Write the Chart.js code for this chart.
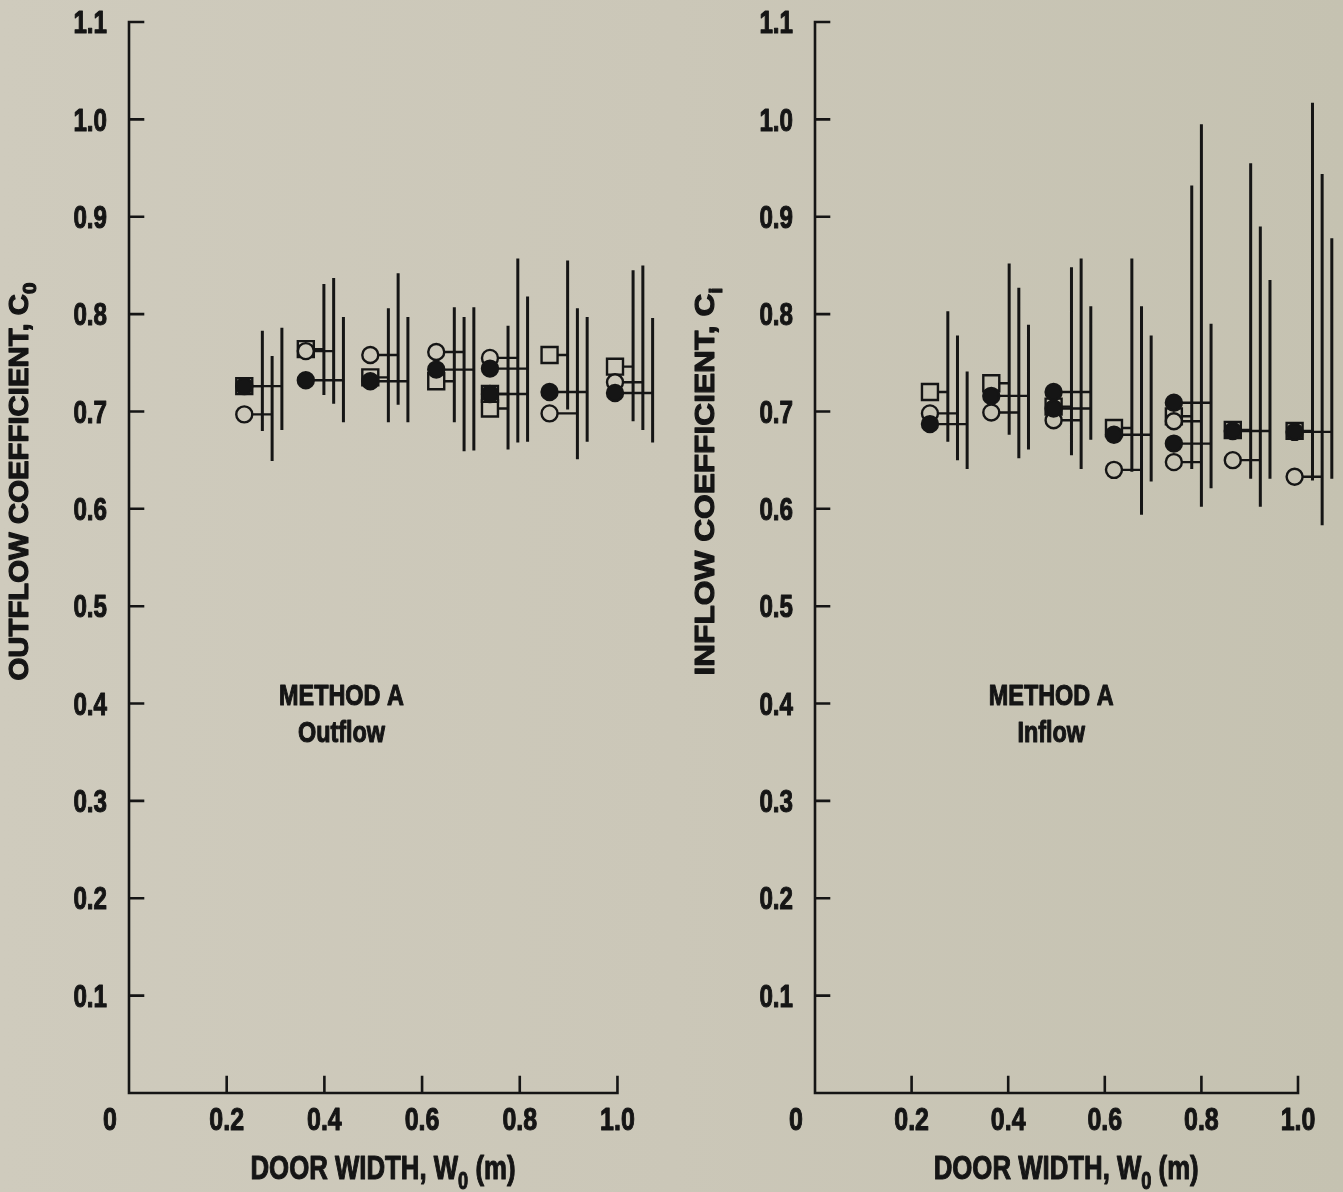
<!DOCTYPE html>
<html>
<head>
<meta charset="utf-8">
<script src="https://cdn.jsdelivr.net/npm/chart.js@4.4.1/dist/chart.umd.min.js"></script>
<style>
  html, body { margin: 0; padding: 0; }
  body {
    width: 1343px; height: 1192px; overflow: hidden; position: relative;
    background: linear-gradient(to right, #cfcbbd 0%, #cbc7b8 50%, #c5c2b1 100%);
  }
  canvas { position: absolute; top: 0; }
  #outflow { left: 0; }
  #inflow { left: 680px; }
</style>
</head>
<body>
<canvas id="outflow" width="680" height="1192"></canvas>
<canvas id="inflow" width="680" height="1192"></canvas>
<script>
const FONT = "'Liberation Sans', Arial, sans-serif";
const INK = "#151515";
const NARROW = 0.78; // squeeze factor for the condensed lettering

// axis ticks
const xTicks = [0.2, 0.4, 0.6, 0.8, 1.0];
const yTicks = [0.1, 0.2, 0.3, 0.4, 0.5, 0.6, 0.7, 0.8, 0.9, 1.0, 1.1];

// ---- outflow (left panel) ----
const outWidth = [0.236, 0.362, 0.494, 0.629, 0.739, 0.861, 0.995];
const outSquare = [0.726, 0.764, 0.735, 0.731, 0.703, 0.758, 0.746];
const outCircle = [0.697, 0.762, 0.758, 0.761, 0.755, 0.698, 0.730];
const outFilled = [0.726, 0.732, 0.731, 0.743, 0.744, 0.720, 0.719];
const outSquareLo = [0.680, 0.717, 0.689, 0.689, 0.661, 0.702, 0.690];
const outSquareHi = [0.783, 0.831, 0.806, 0.807, 0.788, 0.855, 0.845];
const outCircleLo = [0.649, 0.708, 0.707, 0.659, 0.668, 0.651, 0.681];
const outCircleHi = [0.757, 0.837, 0.842, 0.797, 0.857, 0.806, 0.850];
const outFilledLo = [0.681, 0.689, 0.689, 0.660, 0.669, 0.669, 0.668];
const outFilledHi = [0.786, 0.797, 0.797, 0.807, 0.818, 0.797, 0.796];
// second readings at a door width: [group, value]
const outSquareExtra = [[4, 0.718]];
const outCircleExtra = [];
const outFilledExtra = [[4, 0.718]];

// ---- inflow (right panel) ----
const inWidth = [0.238, 0.365, 0.494, 0.619, 0.743, 0.865, 0.993];
const inSquare = [0.720, 0.729, 0.705, 0.683, 0.695, 0.681, 0.680];
const inCircle = [0.698, 0.699, 0.691, 0.640, 0.648, 0.650, 0.633];
const inFilled = [0.687, 0.716, 0.720, 0.676, 0.667, 0.680, 0.679];
const inSquareLo = [0.669, 0.676, 0.655, 0.638, 0.641, 0.631, 0.629];
const inSquareHi = [0.803, 0.852, 0.848, 0.857, 0.932, 0.955, 1.017];
const inCircleLo = [0.650, 0.652, 0.641, 0.594, 0.602, 0.602, 0.583];
const inCircleHi = [0.778, 0.827, 0.857, 0.808, 0.995, 0.890, 0.944];
const inFilledLo = [0.641, 0.661, 0.671, 0.628, 0.621, 0.631, 0.631];
const inFilledHi = [0.741, 0.789, 0.808, 0.778, 0.790, 0.835, 0.878];
const inSquareExtra = [];
const inCircleExtra = [[4, 0.690]];
const inFilledExtra = [[2, 0.703], [4, 0.709]];

// horizontal distance from marker to its range bar (x units)
const BAR_OFF = { square: 0.037, circle: 0.057, filled: 0.077 };

function barData(widths, lo, hi, off) {
  const d = [];
  widths.forEach((w, i) => {
    d.push({ x: w + off, y: lo[i] }, { x: w + off, y: hi[i] }, { x: w + off, y: null });
  });
  return d;
}

function stubData(widths, vals, extra, off) {
  const d = [];
  const add = (w, v) => d.push({ x: w, y: v }, { x: w + off, y: v }, { x: w + off, y: null });
  widths.forEach((w, i) => add(w, vals[i]));
  extra.forEach(([g, v]) => add(widths[g], v));
  return d;
}

function markerData(widths, vals, extra) {
  return widths.map((w, i) => ({ x: w, y: vals[i] }))
    .concat(extra.map(([g, v]) => ({ x: widths[g], y: v })));
}

function lineSet(data, width, order) {
  return {
    type: "scatter", data, showLine: true, spanGaps: false,
    borderColor: INK, borderWidth: width, pointRadius: 0, order, clip: false,
  };
}

function markerSet(data, style, radius, fill, order) {
  return {
    type: "scatter", data, pointStyle: style, pointRadius: radius,
    backgroundColor: fill, borderColor: INK, borderWidth: 2.4, order, clip: false,
  };
}

// text with optional subscript parts; sx = horizontal squeeze, or fit to width
function drawText(ctx, parts, x, y, size, opt = {}) {
  const fontOf = (p) => `bold ${p.sub ? Math.round(size * 0.72) : size}px ${FONT}`;
  const widths = parts.map((p) => { ctx.font = fontOf(p); return ctx.measureText(p.t).width; });
  const total = widths.reduce((a, b) => a + b, 0);
  const sx = opt.width ? opt.width / total : (opt.sx || NARROW);
  ctx.save();
  ctx.translate(x, y);
  ctx.scale(sx, 1);
  ctx.fillStyle = INK;
  ctx.strokeStyle = INK;
  ctx.lineWidth = 1.1;
  ctx.lineJoin = "round";
  ctx.textAlign = "left";
  ctx.textBaseline = "alphabetic";
  let cx = opt.align === "right" ? -total : -total / 2;
  parts.forEach((p, i) => {
    ctx.font = fontOf(p);
    const ty = size * 0.36 + (p.sub ? size * 0.3 : 0);
    ctx.fillText(p.t, cx, ty);
    ctx.strokeText(p.t, cx, ty);
    cx += widths[i];
  });
  ctx.restore();
}

function paperPlugin(cfg) {
  return {
    id: "paper",
    afterDraw(chart) {
      const ctx = chart.ctx;
      const xs = chart.scales.x, ys = chart.scales.y;
      const x0 = xs.getPixelForValue(0), x1 = xs.getPixelForValue(1.0);
      const y0 = ys.getPixelForValue(0), yTop = ys.getPixelForValue(1.1);
      ctx.save();
      ctx.strokeStyle = INK;
      ctx.lineWidth = 2.6;
      ctx.lineCap = "square";
      ctx.beginPath();
      ctx.moveTo(x0, yTop);
      ctx.lineTo(x0, y0);
      ctx.lineTo(x1, y0);
      yTicks.forEach((v) => {
        const y = ys.getPixelForValue(v);
        ctx.moveTo(x0, y);
        ctx.lineTo(x0 + 14, y);
      });
      xTicks.forEach((v) => {
        const x = xs.getPixelForValue(v);
        ctx.moveTo(x, y0);
        ctx.lineTo(x, y0 - 16);
      });
      ctx.stroke();
      ctx.restore();

      // tick labels
      yTicks.forEach((v) => {
        drawText(ctx, [{ t: v.toFixed(1) }], x0 - 22, ys.getPixelForValue(v), 31, { align: "right" });
      });
      xTicks.forEach((v) => {
        drawText(ctx, [{ t: v.toFixed(1) }], xs.getPixelForValue(v), y0 + 25, 32);
      });
      drawText(ctx, [{ t: "0" }], x0 - 19, y0 + 25, 32);

      // x title
      drawText(ctx, [{ t: "DOOR WIDTH, W" }, { t: "0", sub: true }, { t: " (m)" }],
        xs.getPixelForValue(0.52), 1167, 34, { width: 265 });

      // y title (rotated)
      ctx.save();
      ctx.translate(x0 - 111, ys.getPixelForValue(0.628));
      ctx.rotate(-Math.PI / 2);
      drawText(ctx, cfg.yTitle, 0, 0, 27, { width: cfg.yTitleWidth });
      ctx.restore();

      // in-plot notes
      cfg.notes.forEach((n) => {
        drawText(ctx, [{ t: n.t }], xs.getPixelForValue(n.x), ys.getPixelForValue(n.y), 30);
      });
    },
  };
}

function makePanel(id, axisWidth, padRight, fill, d, cfg) {
  const datasets = [
    markerSet(markerData(d.widths, d.filled, d.filledExtra), "circle", 8, INK, 0),
    markerSet(markerData(d.widths, d.circle, d.circleExtra), "circle", 8, fill, 1),
    markerSet(markerData(d.widths, d.square, d.squareExtra), "rect", 11.3, fill, 2),
    lineSet(stubData(d.widths, d.square, d.squareExtra, BAR_OFF.square), 2.4, 3),
    lineSet(stubData(d.widths, d.circle, d.circleExtra, BAR_OFF.circle), 2.4, 3),
    lineSet(stubData(d.widths, d.filled, d.filledExtra, BAR_OFF.filled), 2.4, 3),
    lineSet(barData(d.widths, d.squareLo, d.squareHi, BAR_OFF.square), 3, 4),
    lineSet(barData(d.widths, d.circleLo, d.circleHi, BAR_OFF.circle), 3, 4),
    lineSet(barData(d.widths, d.filledLo, d.filledHi, BAR_OFF.filled), 3, 4),
  ];

  return new Chart(document.getElementById(id), {
    type: "scatter",
    data: { datasets },
    options: {
      responsive: false,
      animation: false,
      layout: { padding: { top: 22, right: padRight, left: 0, bottom: 0 } },
      plugins: { legend: { display: false }, tooltip: { enabled: false } },
      scales: {
        x: {
          type: "linear", min: 0, max: 1.1,
          afterBuildTicks: (s) => { s.ticks = xTicks.map((v) => ({ value: v })); },
          afterFit: (s) => { s.height = 99; },
          grid: { display: false, drawTicks: false },
          border: { display: false },
          ticks: { display: false },
        },
        y: {
          type: "linear", min: 0, max: 1.1,
          afterBuildTicks: (s) => { s.ticks = yTicks.map((v) => ({ value: v })); },
          afterFit: (s) => { s.width = axisWidth; },
          grid: { display: false, drawTicks: false },
          border: { display: false },
          ticks: { display: false },
        },
      },
    },
    plugins: [paperPlugin(cfg)],
  });
}

makePanel("outflow", 129, 11, "#ccc8ba", {
  widths: outWidth, square: outSquare, circle: outCircle, filled: outFilled,
  squareLo: outSquareLo, squareHi: outSquareHi, circleLo: outCircleLo, circleHi: outCircleHi,
  filledLo: outFilledLo, filledHi: outFilledHi,
  squareExtra: outSquareExtra, circleExtra: outCircleExtra, filledExtra: outFilledExtra,
}, {
  yTitle: [{ t: "OUTFLOW COEFFICIENT, C" }, { t: "0", sub: true }],
  yTitleWidth: 398,
  notes: [{ t: "METHOD A", x: 0.435, y: 0.41 }, { t: "Outflow", x: 0.435, y: 0.372 }],
});

makePanel("inflow", 135, 5, "#c6c3b3", {
  widths: inWidth, square: inSquare, circle: inCircle, filled: inFilled,
  squareLo: inSquareLo, squareHi: inSquareHi, circleLo: inCircleLo, circleHi: inCircleHi,
  filledLo: inFilledLo, filledHi: inFilledHi,
  squareExtra: inSquareExtra, circleExtra: inCircleExtra, filledExtra: inFilledExtra,
}, {
  yTitle: [{ t: "INFLOW COEFFICIENT, C" }, { t: "i", sub: true }],
  yTitleWidth: 388,
  notes: [{ t: "METHOD A", x: 0.489, y: 0.41 }, { t: "Inflow", x: 0.489, y: 0.372 }],
});
</script>
</body>
</html>
